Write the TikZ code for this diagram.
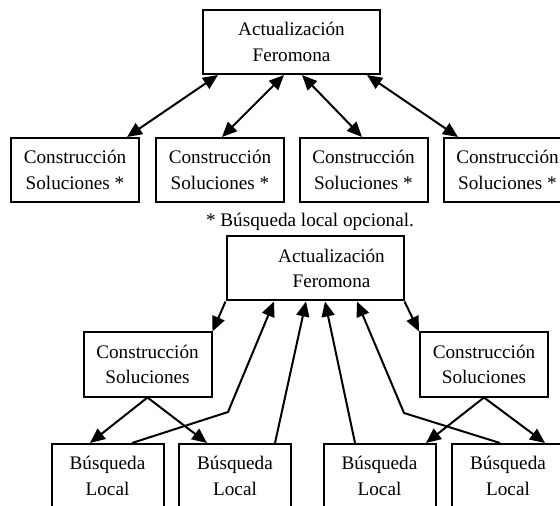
\documentclass[tikz,border=0pt]{standalone}
\usepackage{fontspec}
\setmainfont{Liberation Serif}
\usetikzlibrary{arrows.meta}

\begin{document}
\begin{tikzpicture}[
            x=0.5pt, y=-0.5pt,
            font=\fontsize{9.6pt}{12.75pt}\selectfont,
            line width=1pt,
            >={Triangle[length=7.5pt, width=6.5pt]},
            box/.style  = {draw, align=center, inner sep=0pt},
            upd/.style  = {box, minimum width=88.5pt, minimum height=32pt},
            cons/.style = {box, minimum width=64pt, minimum height=32pt},
            bl/.style   = {box, minimum width=56pt, minimum height=32pt}
                        ]
            \useasboundingbox (0,0) rectangle (560,506);
            \clip (0,0) rectangle (560,506);
            % upper scheme
            \node[upd]  (upd1)  at (291.5,42)  {Actualización\\Feromona};
            \node[cons] (cons1) at (75,170)    {Construcción\\Soluciones *};
            \node[cons] (cons2) at (220,170)   {Construcción\\Soluciones *};
            \node[cons] (cons3) at (363.5,170) {Construcción\\Soluciones *};
            \node[cons] (cons4) at (507.5,170) {Construcción\\Soluciones *};
            \node       (note)  at (310,222)   {* Búsqueda local opcional.};
            \draw[<->] ([xshift=8pt]upd1.south west)  -- ([xshift=26pt]cons1.north);
            \draw[<->] ([xshift=-3.75pt]upd1.south)   -- ([xshift=1pt]cons2.north);
            \draw[<->] ([xshift=5.25pt]upd1.south)    -- ([xshift=-0.75pt]cons3.north);
            \draw[<->] ([xshift=-7pt]upd1.south east) -- ([xshift=7.75pt]cons4.north west);
            % lower scheme
            \node[upd, label={[align=center, xshift=8.25pt]center:Actualización\\Feromona}]
                        (upd2) at (315,268.5) {};
            \node[cons] (cs1) at (147.5,364.5) {Construcción\\Soluciones};
            \node[cons] (cs2) at (484,364.5)   {Construcción\\Soluciones};
            \node[bl]   (bl1) at (107.5,476)   {Búsqueda\\Local};
            \node[bl]   (bl2) at (235,476)     {Búsqueda\\Local};
            \node[bl]   (bl3) at (379.5,476)   {Búsqueda\\Local};
            \node[bl]   (bl4) at (508,476)     {Búsqueda\\Local};
            \coordinate (bend1) at (228,412);
            \coordinate (bend4) at (404,413);
            % update to construction
            \draw[->] (upd2.south west) -- (cs1.north east);
            \draw[->] (upd2.south east) -- (cs2.north west);
            % construction to local search
            \draw[->] (cs1.south) -- ([xshift=-8.75pt]bl1.north);
            \draw[->] (cs1.south) -- ([xshift=-14pt]bl2.north);
            \draw[->] (cs2.south) -- ([xshift=23.25pt]bl3.north);
            \draw[->] (cs2.south) -- ([xshift=18.5pt]bl4.north);
            % local search back to update
            \draw[->] ([xshift=12.25pt]bl1.north) -- (bend1) -- ([xshift=-20.5pt]upd2.south);
            \draw[->] ([xshift=20pt]bl2.north) -- ([xshift=-4.5pt]upd2.south);
            \draw[->] ([xshift=-12.25pt]bl3.north) -- ([xshift=5pt]upd2.south);
            \draw[->] ([xshift=-4pt]bl4.north) -- (bend4) -- ([xshift=21pt]upd2.south);
    \end{tikzpicture}
\end{document}
